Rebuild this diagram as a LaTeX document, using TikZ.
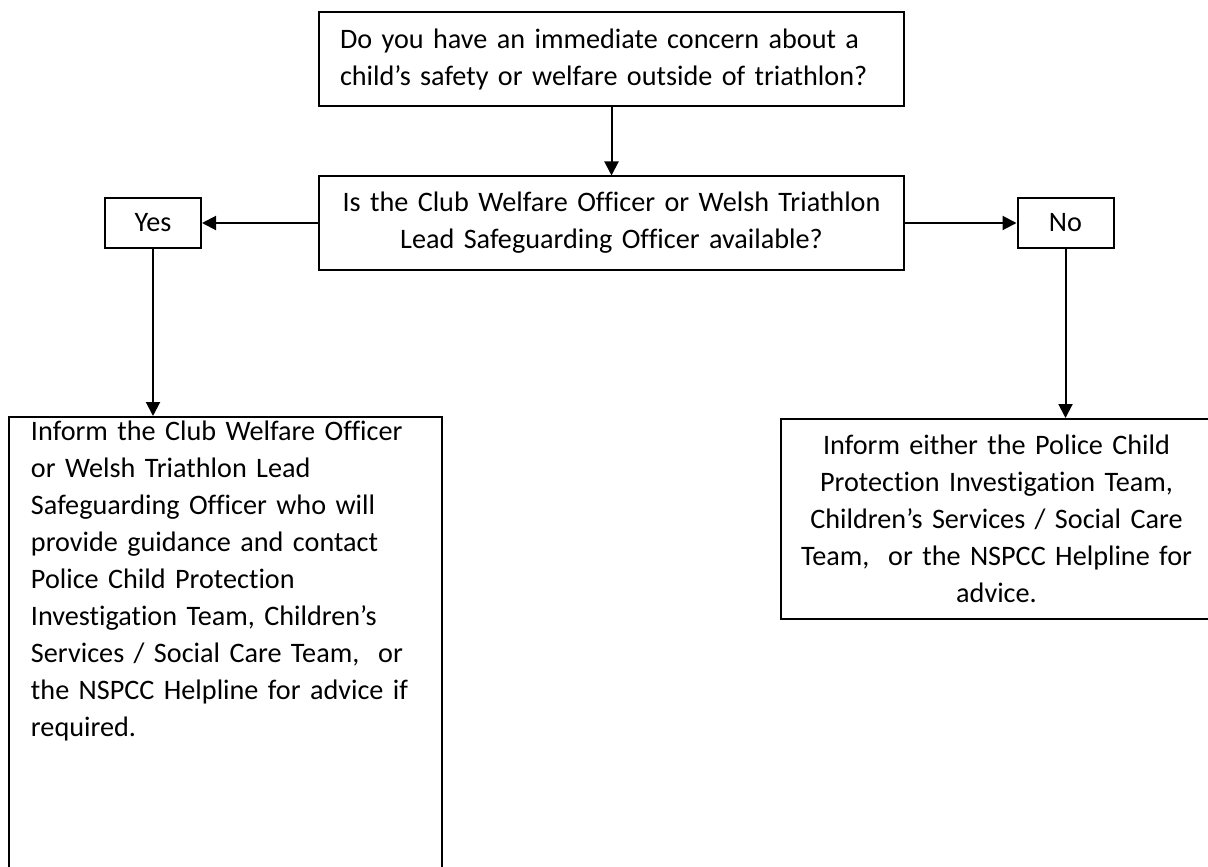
\documentclass[tikz,border=0pt]{standalone}
\usepackage{fontspec}
\setmainfont{Carlito}[Ligatures=NoCommon]
\usetikzlibrary{arrows.meta}
\begin{document}
\begin{tikzpicture}[x=0.5pt,y=-0.5pt,
        base/.style={draw,rectangle,line width=1pt,inner sep=0pt,
            font=\fontsize{14.1}{18.5}\selectfont},
        question/.style={base,minimum width=292.5pt,minimum height=47pt,text width=271.5pt},
        answer/.style={base,minimum width=48pt,minimum height=24.5pt},
        action/.style={base,minimum width=216pt,text width=205pt},
        link/.style={line width=1pt,-{Triangle[width=7pt,length=7pt]}}]
        \clip (0,0) rectangle (1208,866);

        % Question boxes in the middle
        \node[question,align=left] (q1) at (611.5,59)
            {Do you have an immediate concern about a\\child’s safety or welfare outside of triathlon?};
        \node[question,align=center,minimum height=46.5pt] (q2) at (611.5,223)
            {Is the Club Welfare Officer or Welsh Triathlon\\Lead Safeguarding Officer available?};

        % Answers on both sides
        \node[answer] (yes) at (153,223) {Yes};
        \node[answer] (no) at (1065.5,223) {No};

        % What to do next
        \node[action,align=left,text width=194.5pt,inner xsep=11pt,anchor=north,inner ysep=2pt,text depth=240pt] (act1) at (225.5,416)
            {Inform the Club Welfare Officer\\or Welsh Triathlon Lead\\Safeguarding Officer who will\\provide guidance and contact\\Police Child Protection\\Investigation Team, Children’s\\Services / Social Care Team, \ or\\the NSPCC Helpline for advice if\\required.};
        \node[action,align=center,minimum height=100pt] (act2) at (996.5,519)
            {Inform either the Police Child\\Protection Investigation Team,\\Children’s Services / Social Care\\Team, \ or the NSPCC Helpline for\\advice.};

        \draw[link] (q1) -- (q2);
        \draw[link] (q2) -- (yes);
        \draw[link] (q2) -- (no);
        \draw[link] (yes.south) -- (yes.south |- act1.north);
        \draw[link] (no.south) -- (no.south |- act2.north);
    \end{tikzpicture}
\end{document}
